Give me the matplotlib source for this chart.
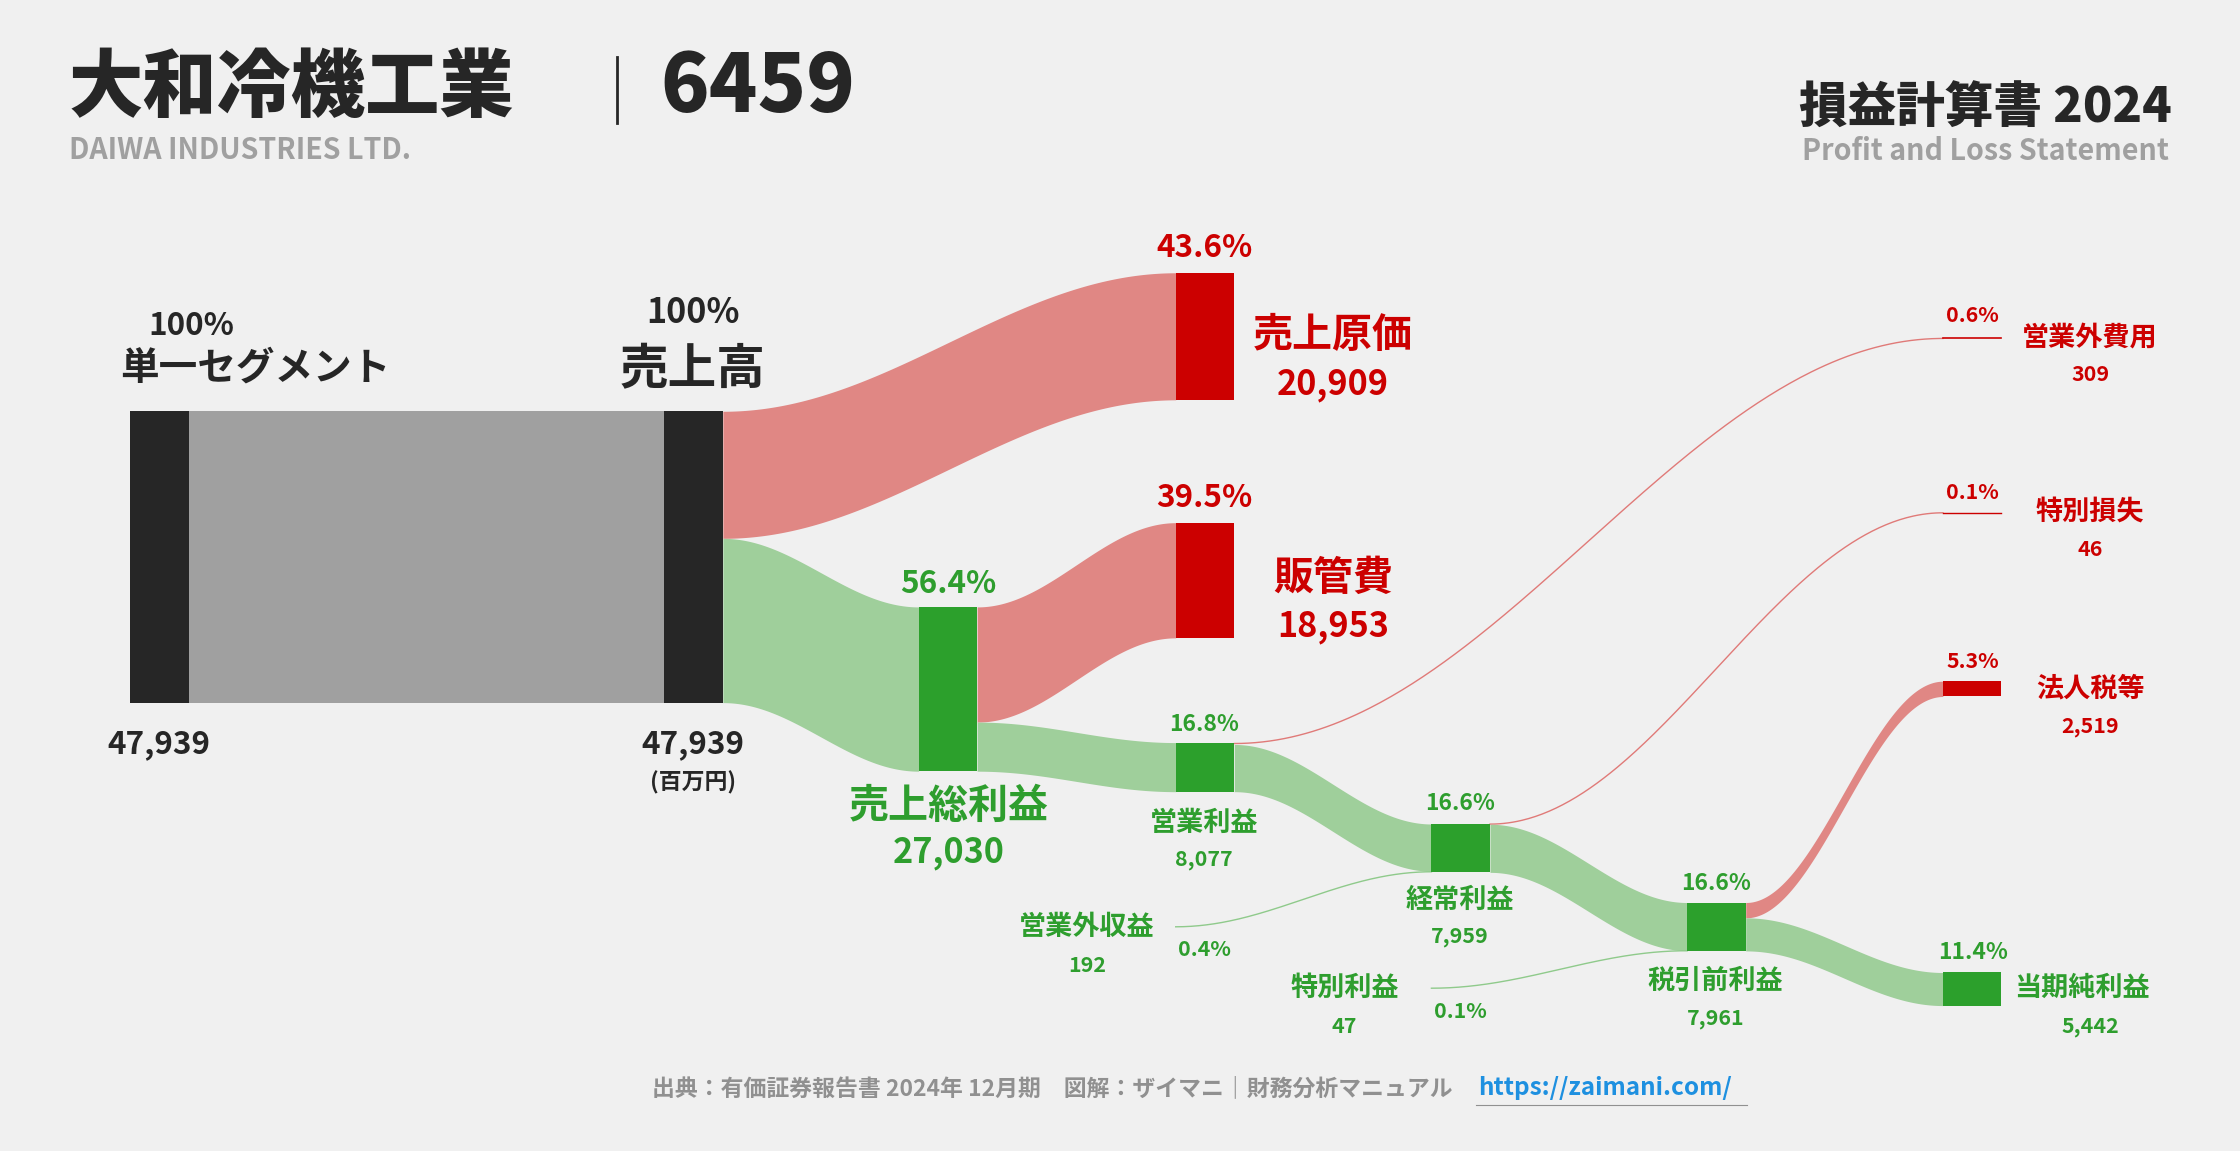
import numpy as np
import matplotlib
matplotlib.use("Agg")
import matplotlib.pyplot as plt

# ---- data (百万円) ----
revenue = 47939
cost_of_sales = 20909
gross_profit = 27030
sga = 18953
operating_profit = 8077
nonop_income = 192
nonop_expense = 309
ordinary_profit = 7959
special_gain = 47
special_loss = 46
pretax_profit = 7961
income_tax = 2519
net_income = 5442

FONT = "Noto Sans CJK JP"
BG = "#f0f0f0"
BLACK = "#262626"
GREY = "#a0a0a0"
RED = "#cc0000"
RED_BAND = "#e08784"
GREEN = "#2ca02c"
GREEN_BAND = "#9fcf9b"
DGREEN = "#2e9e2e"

W, H = 1568, 806
K = 2240 / W
def fs(px):
    return px * K * 0.72

fig = plt.figure(figsize=(22.4, 11.51), dpi=100, facecolor=BG)
ax = fig.add_axes([0, 0, 1, 1])
ax.set_xlim(0, W); ax.set_ylim(H, 0); ax.axis("off"); ax.set_facecolor(BG)

S = 204 / revenue  # px per 百万円
NW = 41

def node(x, y, v, c):
    ax.add_patch(plt.Rectangle((x, y), NW, v * S, color=c, lw=0, zorder=3))

def band(x0, y0, x1, y1, v, c, lw_min=False):
    h = v * S
    xs = np.linspace(x0, x1, 200)
    t = (1 - np.cos(np.pi * (xs - x0) / (x1 - x0))) / 2
    top = y0 + (y1 - y0) * t
    if h < 1.5:
        ax.plot(xs, top + h / 2, color=c, lw=1.0, zorder=2)
    else:
        ax.fill_between(xs, top, top + h, color=c, lw=0, zorder=2)

def txt(x, y, s, size, c=BLACK, ha="center", va="center", w="bold"):
    ax.text(x, y, s, fontsize=fs(size), color=c, ha=ha, va=va, fontweight=w, family=FONT)

def pct(v):
    return f"{v / revenue * 100:.1f}%"

# columns
X0, X1, X2, X3, X4, X5, X6 = 91, 465, 643, 823, 1002, 1181, 1360

# revenue segment
node(X0, 288, revenue, BLACK)
ax.add_patch(plt.Rectangle((X0 + NW, 288), X1 - X0 - NW, revenue * S, color=GREY, lw=0))
node(X1, 288, revenue, BLACK)

# cost of sales
band(X1 + NW, 288, X3, 191, cost_of_sales, RED_BAND)
node(X3, 191, cost_of_sales, RED)
# gross profit
gp_src = 288 + cost_of_sales * S
band(X1 + NW, gp_src, X2, 425, gross_profit, GREEN_BAND)
node(X2, 425, gross_profit, GREEN)
# sga
band(X2 + NW, 425, X3, 366, sga, RED_BAND)
node(X3, 366, sga, RED)
# operating profit
op_src = 425 + sga * S
band(X2 + NW, op_src, X3, 520, operating_profit, GREEN_BAND)
node(X3, 520, operating_profit, GREEN)
# non-op expense
band(X3 + NW, 520, X6, 237 - nonop_expense * S / 2, nonop_expense, "#e07a78")
ax.plot([X6, X6 + NW], [237, 237], color=RED, lw=1.2)
# op -> ordinary
band(X3 + NW, 520 + nonop_expense * S, X4, 577, operating_profit - nonop_expense, GREEN_BAND)
# non-op income
band(X3, 649 - nonop_income * S / 2, X4, 577 + (operating_profit - nonop_expense) * S, nonop_income, "#8fca8b")
node(X4, 577, ordinary_profit, GREEN)
# special loss
band(X4 + NW, 577, X6, 359, special_loss, "#e07a78")
ax.plot([X6, X6 + NW], [359, 359], color=RED, lw=1.0)
# ordinary -> pretax
band(X4 + NW, 577 + special_loss * S, X5, 632, ordinary_profit - special_loss, GREEN_BAND)
band(X4, 692 - special_gain * S / 2, X5, 632 + (ordinary_profit - special_loss) * S, special_gain, "#8fca8b")
node(X5, 632, pretax_profit, GREEN)
# tax
band(X5 + NW, 632, X6, 477, income_tax, RED_BAND)
node(X6, 477, income_tax, RED)
# net
band(X5 + NW, 632 + income_tax * S, X6, 681, net_income, GREEN_BAND)
node(X6, 681, net_income, GREEN)

# ---- titles ----
txt(48, 62, "大和冷機工業", 52, ha="left", w="black")
ax.plot([432, 432], [40, 86], color=BLACK, lw=2)
txt(462, 62, "6459", 56, ha="left", w="black")
txt(48, 105, "DAIWA INDUSTRIES LTD.", 20, c="#a0a0a0", ha="left")
txt(1520, 76, "損益計算書 2024", 34, ha="right", w="black")
txt(1518, 106, "Profit and Loss Statement", 20, c="#a0a0a0", ha="right")

# ---- labels ----
txt(134, 228, "100%", 22)
txt(179, 258, "単一セグメント", 27)
txt(111, 521, f"{revenue:,}", 22)
txt(485, 219, "100%", 24)
txt(485, 259, "売上高", 34)
txt(485, 521, f"{revenue:,}", 22)
txt(485, 548, "(百万円)", 16)

txt(843, 174, pct(cost_of_sales), 22, c=RED)
txt(933, 235, "売上原価", 28, c=RED)
txt(933, 269, f"{cost_of_sales:,}", 24, c=RED)
txt(843, 349, pct(sga), 22, c=RED)
txt(933, 405, "販管費", 28, c=RED)
txt(933, 439, f"{sga:,}", 24, c=RED)
txt(664, 409, pct(gross_profit), 22, c=DGREEN)
txt(664, 565, "売上総利益", 28, c=DGREEN)
txt(664, 597, f"{gross_profit:,}", 24, c=DGREEN)
txt(843, 507, pct(operating_profit), 16, c=DGREEN)
txt(843, 576, "営業利益", 19, c=DGREEN)
txt(843, 602, f"{operating_profit:,}", 15, c=DGREEN)
txt(1022, 563, pct(ordinary_profit), 16, c=DGREEN)
txt(1022, 630, "経常利益", 19, c=DGREEN)
txt(1022, 656, f"{ordinary_profit:,}", 15, c=DGREEN)
txt(1201, 619, pct(pretax_profit), 16, c=DGREEN)
txt(1201, 687, "税引前利益", 19, c=DGREEN)
txt(1201, 713, f"{pretax_profit:,}", 15, c=DGREEN)
txt(1381, 667, pct(net_income), 16, c=DGREEN)
txt(1410, 692, "当期純利益", 19, c=DGREEN, ha="left")
txt(1463, 719, f"{net_income:,}", 15, c=DGREEN)

txt(761, 649, "営業外収益", 19, c=DGREEN)
txt(761, 676, f"{nonop_income:,}", 15, c=DGREEN)
txt(843, 665, pct(nonop_income), 15, c=DGREEN)
txt(941, 692, "特別利益", 19, c=DGREEN)
txt(941, 719, f"{special_gain:,}", 15, c=DGREEN)
txt(1022, 708, pct(special_gain), 15, c=DGREEN)

txt(1381, 221, pct(nonop_expense), 15, c=RED)
txt(1463, 236, "営業外費用", 19, c=RED)
txt(1463, 262, f"{nonop_expense:,}", 15, c=RED)
txt(1381, 345, pct(special_loss), 15, c=RED)
txt(1463, 358, "特別損失", 19, c=RED)
txt(1463, 385, f"{special_loss:,}", 15, c=RED)
txt(1381, 463, pct(income_tax), 15, c=RED)
txt(1463, 482, "法人税等", 19, c=RED)
txt(1463, 509, f"{income_tax:,}", 15, c=RED)

# ---- footer ----
txt(1017, 762, "出典：有価証券報告書 2024年 12月期　図解：ザイマニ｜財務分析マニュアル", 16, c="#909090", ha="right")
txt(1035, 762, "https://zaimani.com/", 17, c="#1e90e0", ha="left")
ax.plot([1033, 1223], [774, 774], color="#909090", lw=0.8)

fig.savefig("out.png", dpi=100, facecolor=BG)
